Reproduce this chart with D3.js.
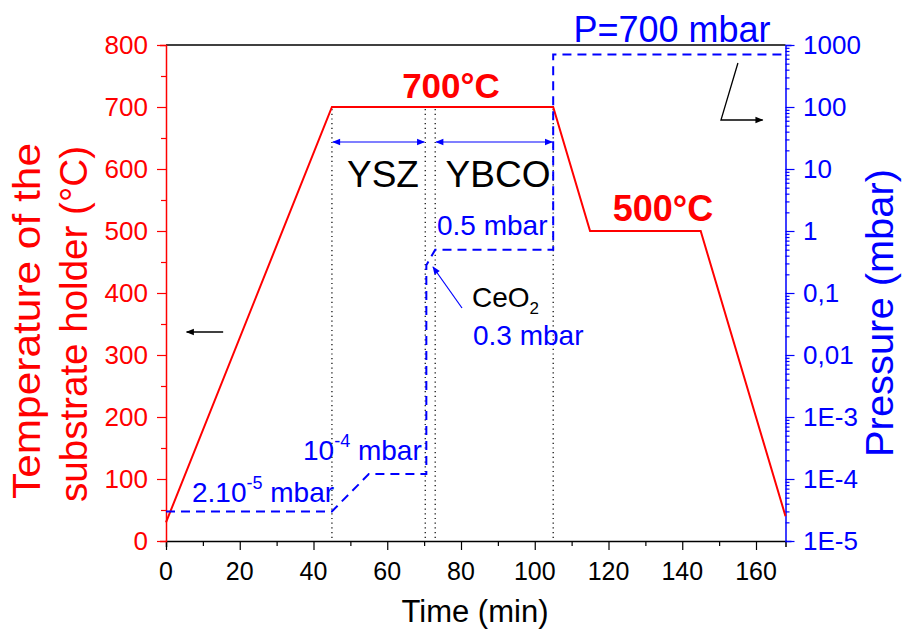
<!DOCTYPE html>
<html><head><meta charset="utf-8">
<script src="https://cdn.jsdelivr.net/npm/d3@7"></script>
<style>body{margin:0;background:#fff} text{font-family:"Liberation Sans",Arial,Helvetica,sans-serif}</style>
</head><body><svg id="c" width="903" height="635"></svg>
<script>
// ---- data ----
const tempTime  = [0, 45, 105, 115, 145, 168];
const tempValue = [30, 700, 700, 500, 500, 40];
const presTime  = [0, 45, 55, 70.6, 70.6, 73, 105, 105, 168];
const presValue = [3e-5, 3e-5, 1.2e-4, 1.2e-4, 0.28, 0.5, 0.5, 700, 700];
const stepTimes = [45, 70.3, 73, 105];
const xTicks = [0, 20, 40, 60, 80, 100, 120, 140, 160];
const yTicks = [0, 100, 200, 300, 400, 500, 600, 700, 800];
const pTicks = [1e-5, 1e-4, 1e-3, 1e-2, 1e-1, 1, 10, 100, 1000];
const pTickLabels = ["1E-5", "1E-4", "1E-3", "0,01", "0,1", "1", "10", "100", "1000"];
const layers = [{name: "YSZ", from: 45, to: 70.3}, {name: "YBCO", from: 73, to: 105}];

const RED = "#ff0000", BLUE = "#0000ff";
const svg = d3.select("#c");
const x = d3.scaleLinear().domain([0, 168]).range([166, 785.5]);
const y = d3.scaleLinear().domain([0, 800]).range([541, 45]);
const yp = d3.scaleLog().domain([1e-5, 1000]).range([541, 45]);

const defs = svg.append("defs");
function marker(id, color, w, h) {
  defs.append("marker").attr("id", id).attr("viewBox", "0 0 10 10").attr("refX", 9).attr("refY", 5)
    .attr("markerWidth", w).attr("markerHeight", h).attr("markerUnits", "userSpaceOnUse").attr("orient", "auto-start-reverse")
    .append("path").attr("d", "M0,1 L10,5 L0,9 Z").attr("fill", color);
}
marker("ab", BLUE, 10, 8);
marker("ak", "#000", 11, 8);

// frame top line
svg.append("line").attr("x1", x(0)).attr("x2", x(168)).attr("y1", y(800)).attr("y2", y(800)).attr("stroke", "#000").attr("stroke-width", 1.5);

// bottom axis
const xAx = svg.append("g").attr("transform", `translate(0,${y(0)})`)
  .call(d3.axisBottom(x).tickValues(d3.range(0, 170, 10)).tickSize(6).tickFormat(""));
xAx.select(".domain").attr("stroke", "#000").attr("stroke-width", 1.5);
xAx.selectAll(".tick line").attr("stroke", "#000").attr("stroke-width", 1.2)
  .attr("y2", d => xTicks.includes(d) ? 9 : 5);
svg.append("g").selectAll("text").data(xTicks).join("text")
  .attr("x", d => x(d)).attr("y", 580).attr("text-anchor", "middle").attr("font-size", 25).attr("fill", "#000").text(d => d);

// left axis
const yAx = svg.append("g").attr("transform", `translate(${x(0)},0)`)
  .call(d3.axisLeft(y).tickValues(d3.range(0, 850, 50)).tickFormat(""));
yAx.select(".domain").attr("stroke", RED).attr("stroke-width", 1.5);
yAx.selectAll(".tick line").attr("stroke", RED).attr("stroke-width", 1.2)
  .attr("x2", d => yTicks.includes(d) ? -9 : -5);
svg.append("g").selectAll("text").data(yTicks).join("text")
  .attr("x", 148).attr("y", d => y(d) + 9).attr("text-anchor", "end").attr("font-size", 26).attr("fill", RED).text(d => d);

// right axis (log)
const minor = [];
pTicks.slice(0, -1).forEach(p => { for (let m = 2; m <= 9; m++) minor.push(p * m); });
const pAx = svg.append("g").attr("transform", `translate(${x(168)},0)`)
  .call(d3.axisRight(yp).tickValues(pTicks.concat(minor)).tickFormat(""));
pAx.select(".domain").attr("stroke", BLUE).attr("stroke-width", 1.5);
pAx.selectAll(".tick line").attr("stroke", BLUE).attr("stroke-width", 1.2)
  .attr("x2", d => pTicks.includes(d) ? 9 : 4);
svg.append("g").selectAll("text").data(pTicks).join("text")
  .attr("x", 803).attr("y", d => yp(d) + 9).attr("font-size", 26).attr("fill", BLUE)
  .text((d, i) => pTickLabels[i]);

// vertical dotted step lines
svg.append("g").selectAll("line").data(stepTimes).join("line")
  .attr("x1", d => x(d)).attr("x2", d => x(d)).attr("y1", y(700) + 2).attr("y2", y(0))
  .attr("stroke", "#000").attr("stroke-width", 1.2).attr("stroke-dasharray", "1.2,3.5");

// temperature line
svg.append("path").datum(tempTime.map((t, i) => [t, tempValue[i]]))
  .attr("d", d3.line().x(d => x(d[0])).y(d => y(d[1])))
  .attr("fill", "none").attr("stroke", RED).attr("stroke-width", 2);

// pressure line
svg.append("path").datum(presTime.map((t, i) => [t, presValue[i]]))
  .attr("d", d3.line().x(d => x(d[0])).y(d => yp(d[1])))
  .attr("fill", "none").attr("stroke", BLUE).attr("stroke-width", 2).attr("stroke-dasharray", "9,6");

// layer arrows
svg.append("g").selectAll("line").data(layers).join("line")
  .attr("x1", d => x(d.from) + 1).attr("x2", d => x(d.to) - 1).attr("y1", 142).attr("y2", 142)
  .attr("stroke", BLUE).attr("stroke-width", 1.2)
  .attr("marker-start", "url(#ab)").attr("marker-end", "url(#ab)");
svg.append("text").attr("x", 383).attr("y", 187).attr("text-anchor", "middle").attr("font-size", 37).text("YSZ");
svg.append("text").attr("x", 498).attr("y", 187).attr("text-anchor", "middle").attr("font-size", 37).text("YBCO");

// temperature labels
svg.append("text").attr("x", 451).attr("y", 98).attr("text-anchor", "middle").attr("font-size", 35).attr("font-weight", "bold").attr("fill", RED).text("700°C");
svg.append("text").attr("x", 663).attr("y", 221).attr("text-anchor", "middle").attr("font-size", 36).attr("font-weight", "bold").attr("fill", RED).text("500°C");

// pressure labels
svg.append("text").attr("x", 672).attr("y", 42).attr("text-anchor", "middle").attr("font-size", 36).attr("fill", BLUE).text("P=700 mbar");
svg.append("text").attr("x", 437).attr("y", 235).attr("font-size", 28).attr("fill", BLUE).text("0.5 mbar");
svg.append("text").attr("x", 473).attr("y", 345).attr("font-size", 28).attr("fill", BLUE).text("0.3 mbar");
const ce = svg.append("text").attr("x", 472).attr("y", 307).attr("font-size", 28).attr("fill", "#000");
ce.append("tspan").text("CeO");
ce.append("tspan").attr("font-size", 17).attr("dy", 7).text("2");
const t4 = svg.append("text").attr("x", 303).attr("y", 460).attr("font-size", 28).attr("fill", BLUE);
t4.append("tspan").text("10");
t4.append("tspan").attr("font-size", 18).attr("dy", -13).text("-4");
t4.append("tspan").attr("dy", 13).text(" mbar");
const t5 = svg.append("text").attr("x", 192).attr("y", 502).attr("font-size", 28).attr("fill", BLUE);
t5.append("tspan").text("2.10");
t5.append("tspan").attr("font-size", 18).attr("dy", -13).text("-5");
t5.append("tspan").attr("dy", 13).text(" mbar");

// CeO2 pointer
svg.append("line").attr("x1", 462).attr("y1", 308).attr("x2", 433).attr("y2", 267)
  .attr("stroke", BLUE).attr("stroke-width", 1.2).attr("marker-end", "url(#ab)");

// axis-pointer arrows (data coords)
svg.append("line").attr("x1", x(15.5)).attr("y1", y(337)).attr("x2", x(5.6)).attr("y2", y(337))
  .attr("stroke", "#000").attr("stroke-width", 1.5).attr("marker-end", "url(#ak)");
svg.append("path").attr("d", `M${x(155.1)},${y(771)} L${x(150.5)},${y(679)} L${x(161.8)},${y(679)}`)
  .attr("fill", "none").attr("stroke", "#000").attr("stroke-width", 1.3).attr("marker-end", "url(#ak)");

// axis titles
svg.append("text").attr("x", 475).attr("y", 622).attr("text-anchor", "middle").attr("font-size", 31).attr("fill", "#000").text("Time (min)");
svg.append("text").attr("transform", "translate(40,321) rotate(-90)").attr("text-anchor", "middle")
  .attr("font-size", 38).attr("textLength", 356).attr("lengthAdjust", "spacingAndGlyphs").attr("fill", RED).text("Temperature of the");
svg.append("text").attr("transform", "translate(87,324) rotate(-90)").attr("text-anchor", "middle")
  .attr("font-size", 38).attr("textLength", 356).attr("lengthAdjust", "spacingAndGlyphs").attr("fill", RED).text("substrate holder (°C)");
svg.append("text").attr("transform", "translate(893,313) rotate(-90)").attr("text-anchor", "middle")
  .attr("font-size", 38).attr("textLength", 288).attr("lengthAdjust", "spacingAndGlyphs").attr("fill", BLUE).text("Pressure (mbar)");
</script></body></html>
